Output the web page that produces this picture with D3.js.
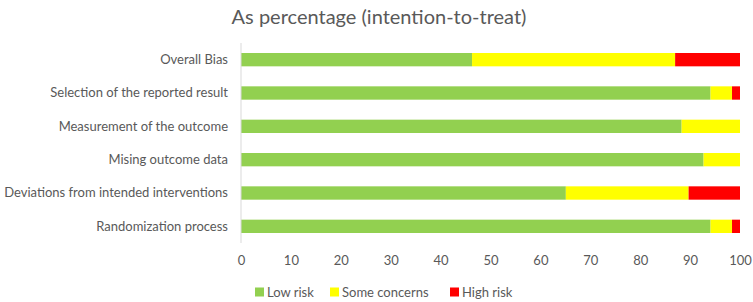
<!DOCTYPE html>
<html lang="en">
<head>
  <meta charset="UTF-8">
  <title>As percentage (intention-to-treat)</title>
  <script src="https://cdn.jsdelivr.net/npm/d3@7"></script>
  <style>
    body { margin: 0; background: #fff; }
    svg { display: block; font-family: Lato, "Open Sans", sans-serif; }
    .tick text { fill: #595959; }
  </style>
</head>
<body>
<svg width="753" height="302"></svg>
<script>
  // domains, top to bottom
  const domains = [
    "Overall Bias",
    "Selection of the reported result",
    "Measurement of the outcome",
    "Mising outcome data",
    "Deviations from intended interventions",
    "Randomization process"
  ];
  const series = ["Low risk", "Some concerns", "High risk"];
  const colors = ["#92d050", "#ffff00", "#ff0000"];

  // percentages per domain
  const lowRisk       = [46.3, 94.1, 88.3, 92.7, 65.1, 94.1];
  const someConcerns  = [40.7, 4.3, 11.7, 7.3, 24.6, 4.3];
  const highRisk      = [13.0, 1.6, 0, 0, 10.3, 1.6];
  const xTicks = [0, 10, 20, 30, 40, 50, 60, 70, 80, 90, 100];

  const svg = d3.select("svg");
  const margin = { top: 43, left: 241, right: 13 };
  const plotBottom = 243;

  const x = d3.scaleLinear().domain([0, 100]).range([margin.left, 753 - margin.right]);
  const y = d3.scaleBand().domain(domains).range([margin.top, plotBottom]).paddingInner(0.6).paddingOuter(0.3);

  // title
  svg.append("text")
    .attr("x", 379).attr("y", 24)
    .attr("text-anchor", "middle")
    .attr("font-size", 20)
    .attr("fill", "#595959")
    .text("As percentage (intention-to-treat)");

  // stacked data
  const rows = domains.map((d, i) => ({ domain: d, "Low risk": lowRisk[i], "Some concerns": someConcerns[i], "High risk": highRisk[i] }));
  const stacked = d3.stack().keys(series)(rows);

  svg.append("g").selectAll("g")
    .data(stacked)
    .join("g")
      .attr("fill", (d, i) => colors[i])
    .selectAll("rect")
    .data(d => d)
    .join("rect")
      .attr("x", d => x(d[0]))
      .attr("y", d => y(d.data.domain))
      .attr("width", d => x(d[1]) - x(d[0]))
      .attr("height", y.bandwidth());

  // vertical axis line + category labels
  const yAxis = d3.axisLeft(y).tickSize(0).tickPadding(13);
  const gy = svg.append("g")
    .attr("transform", `translate(${margin.left},0)`)
    .call(yAxis);
  gy.select(".domain").attr("stroke", "#d9d9d9").attr("d", `M0,${margin.top}V${plotBottom}`);
  gy.selectAll("text").attr("font-size", 13).attr("font-family", "Lato, sans-serif");

  // bottom value axis, labels only
  const xAxis = d3.axisBottom(x).tickValues(xTicks).tickSize(0).tickPadding(0);
  const gx = svg.append("g")
    .attr("transform", "translate(0,256)")
    .call(xAxis);
  gx.select(".domain").remove();
  gx.selectAll("text").attr("font-size", 13).attr("font-family", "Lato, sans-serif");

  // legend
  const legendX = [255, 330, 450];
  const legend = svg.append("g").selectAll("g")
    .data(series)
    .join("g")
      .attr("transform", (d, i) => `translate(${legendX[i]},292)`);
  legend.append("rect")
    .attr("x", 0).attr("y", -4.5)
    .attr("width", 9).attr("height", 9)
    .attr("fill", (d, i) => colors[i]);
  legend.append("text")
    .attr("x", 12).attr("dy", "0.35em")
    .attr("font-size", 13)
    .attr("fill", "#595959")
    .text(d => d);
</script>
</body>
</html>
